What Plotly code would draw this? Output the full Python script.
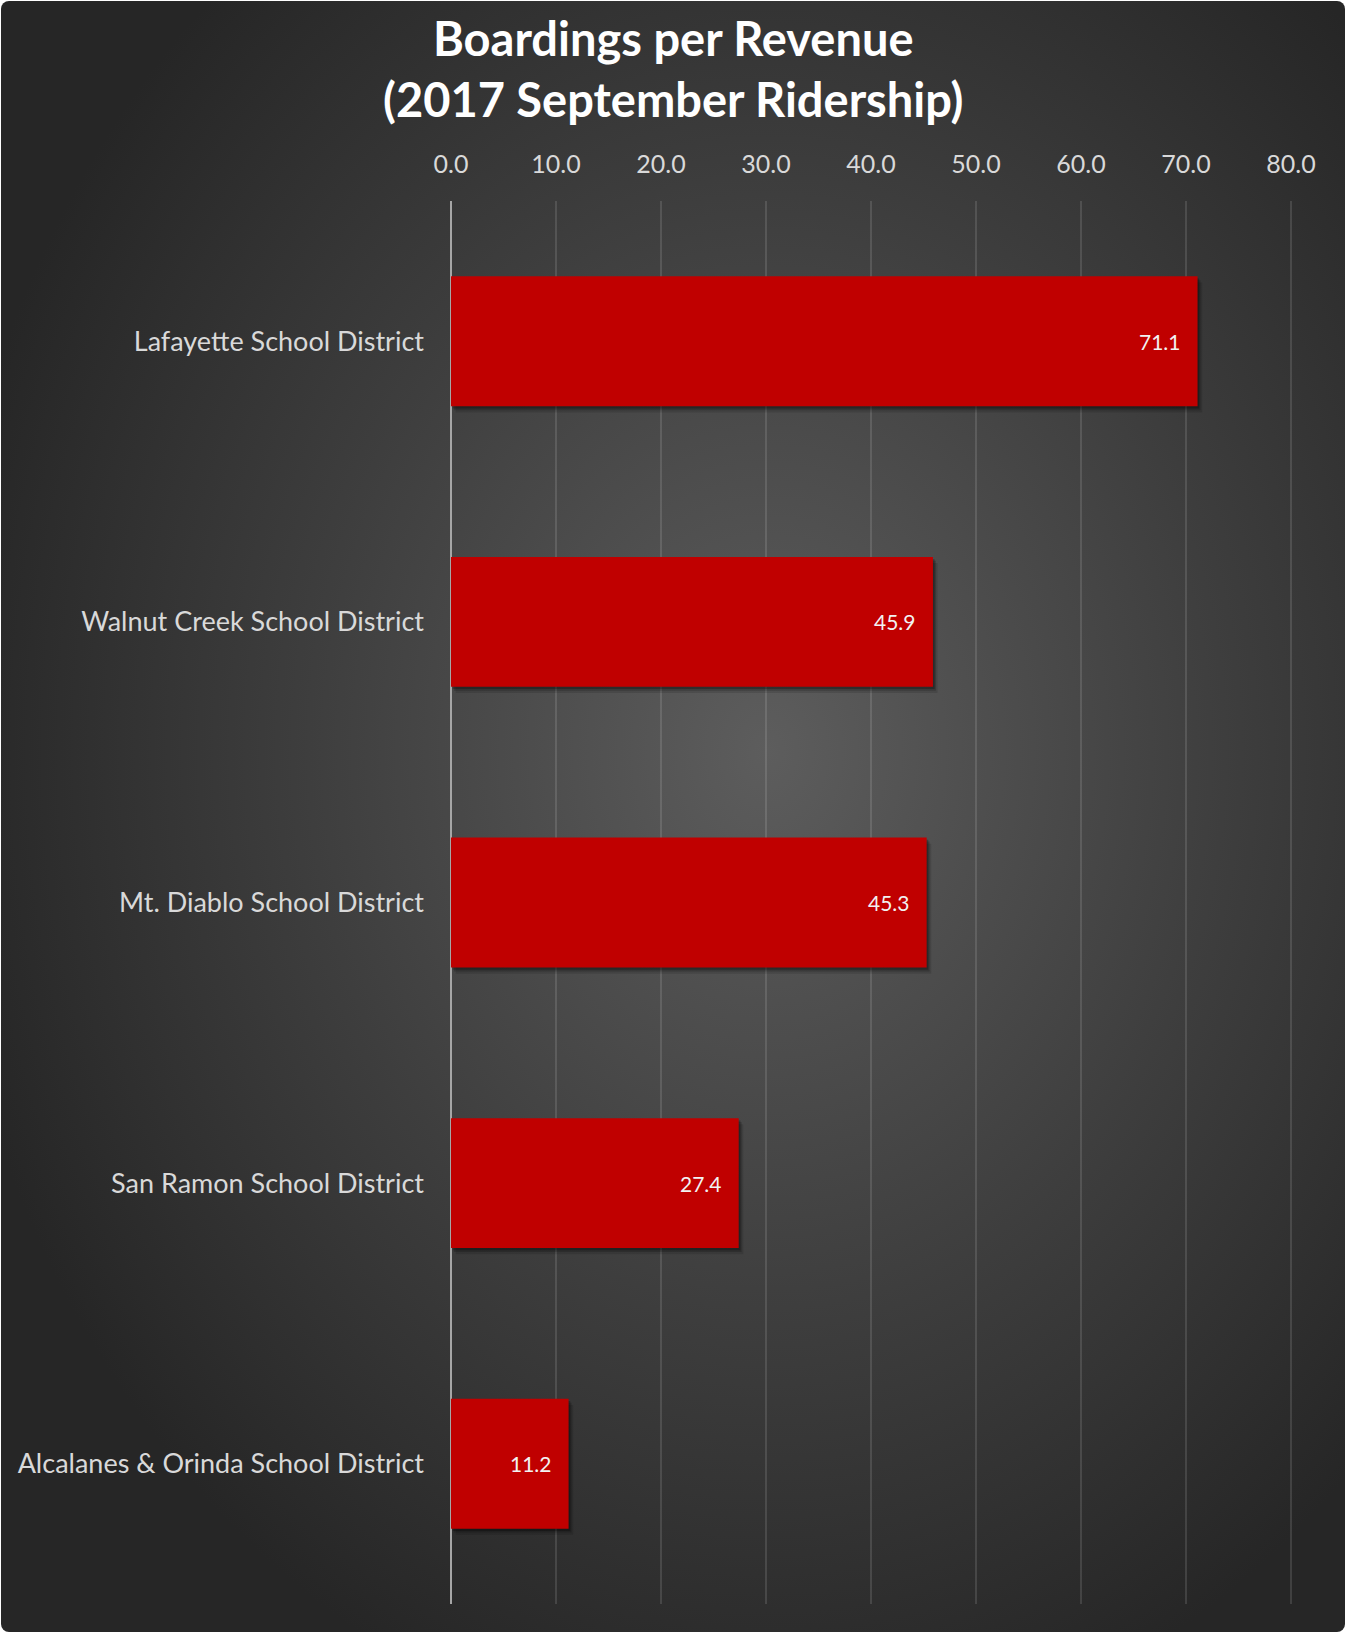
import base64
import plotly.graph_objects as go

categories = [
    "Lafayette School District",
    "Walnut Creek School District",
    "Mt. Diablo School District",
    "San Ramon School District",
    "Alcalanes & Orinda School District",
]
values = [71.1, 45.9, 45.3, 27.4, 11.2]
tick_vals = [0, 10, 20, 30, 40, 50, 60, 70, 80]
tick_text = ["0.0", "10.0", "20.0", "30.0", "40.0", "50.0", "60.0", "70.0", "80.0"]
title_lines = ["Boardings per Revenue", "(2017 September Ridership)"]

W, H = 1346, 1633
ML, MR, MT, MB = 451, 53, 201, 29
PW, PH = W - ML - MR, H - MT - MB
XMAX = PW / 10.5  # keeps 80 gridline just inside the plot area

FONT = "Lato"
LIGHT = "#d9d9d9"
BAR_W = 0.463

svg = f'''<svg xmlns="http://www.w3.org/2000/svg" width="{W}" height="{H}">
<defs><radialGradient id="g" cx="0.57" cy="0.46" r="0.62" fx="0.57" fy="0.46">
<stop offset="0" stop-color="#5d5d5d"/><stop offset="0.55" stop-color="#3e3e3e"/><stop offset="1" stop-color="#262626"/>
</radialGradient></defs>
<rect x="1" y="1" width="{W-2}" height="{H-2}" rx="8" ry="8" fill="url(#g)"/>
</svg>'''
src = "data:image/svg+xml;base64," + base64.b64encode(svg.encode()).decode()

fig = go.Figure()
# soft shadow layers under the bars
for k, op in [(0.022, 0.12), (0.014, 0.18), (0.008, 0.25)]:
    fig.add_trace(go.Bar(
        x=values, y=categories, orientation="h",
        base=k * 20, width=BAR_W, offset=-BAR_W / 2 + k,
        marker=dict(color=f"rgba(0,0,0,{op})", line=dict(width=0)),
        hoverinfo="skip",
    ))
fig.add_trace(go.Bar(
    x=values, y=categories, orientation="h",
    width=BAR_W, offset=-BAR_W / 2,
    marker=dict(color="#c00000", line=dict(width=0)),
    hoverinfo="skip",
))

for c, v in zip(categories, values):
    fig.add_annotation(
        x=v, y=c, xref="x", yref="y", text=f"{v:.1f}", showarrow=False,
        xanchor="right", yanchor="middle", xshift=-15,
        font=dict(family=FONT, size=21, color="#f2f2f2"),
    )

ys = [1 + (MT - 37.5) / PH, 1 + (MT - 99) / PH]
for line, yy in zip(title_lines, ys):
    fig.add_annotation(
        x=0.5, y=yy, xref="paper", yref="paper", text=f"<b>{line}</b>",
        showarrow=False, xanchor="center", yanchor="middle",
        font=dict(family=FONT, size=47, color="#ffffff"),
        xshift=(W / 2 - (ML + PW / 2)),
    )

fig.add_layout_image(dict(
    source=src, xref="paper", yref="paper",
    x=-ML / PW, y=1 + MT / PH, sizex=W / PW, sizey=H / PH,
    xanchor="left", yanchor="top", sizing="stretch", layer="below",
))

fig.update_layout(
    width=W, height=H,
    margin=dict(l=ML, r=MR, t=MT, b=MB),
    paper_bgcolor="#ffffff", plot_bgcolor="rgba(0,0,0,0)",
    barmode="overlay", showlegend=False, hovermode=False,
    xaxis=dict(
        side="top", range=[0, XMAX], tickvals=tick_vals, ticktext=tick_text,
        showgrid=True, gridcolor="rgba(255,255,255,0.12)", gridwidth=1.5,
        zeroline=True, zerolinecolor="#a6a6a6", zerolinewidth=2,
        showline=False, ticks="", ticklabelstandoff=22,
        tickfont=dict(family=FONT, size=25, color=LIGHT),
        fixedrange=True,
    ),
    yaxis=dict(
        autorange="reversed", showgrid=False, zeroline=False, showline=False,
        ticks="", ticklabelstandoff=26,
        tickfont=dict(family=FONT, size=27, color=LIGHT),
        fixedrange=True,
    ),
)

fig.write_html(
    "out.html",
    config={"displayModeBar": False, "staticPlot": True},
    post_script="document.body.style.margin='0';document.body.style.overflow='hidden';",
)
